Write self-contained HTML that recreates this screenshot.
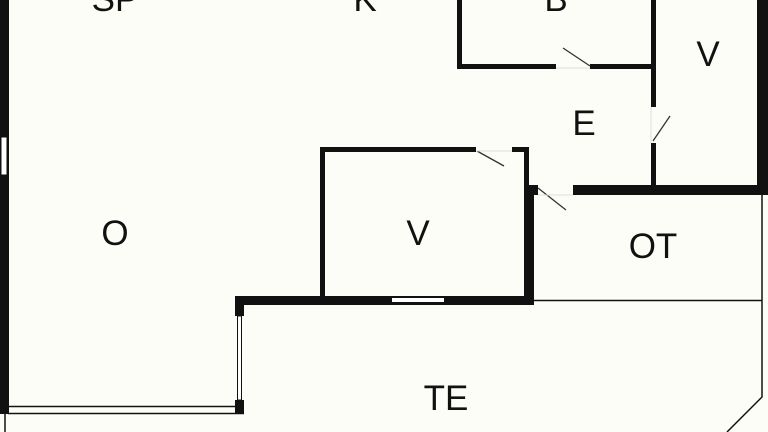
<!DOCTYPE html>
<html><head><style>
html,body{margin:0;padding:0;background:#fdfdf8;}
svg{display:block;}
text{font-family:"Liberation Sans",sans-serif;font-size:35px;fill:#111;text-anchor:middle;}
</style></head><body>
<svg width="768" height="432" viewBox="0 0 768 432">
<rect width="768" height="432" fill="#fdfdf8"/>
<g fill="#111">
<!-- left wall -->
<rect x="0" y="0" width="9" height="414"/>
<!-- step wall -->
<rect x="235" y="296" width="9" height="20"/>
<rect x="235" y="400" width="9" height="14"/>
<rect x="235" y="296" width="297" height="9"/>
<!-- V room -->
<rect x="320" y="147" width="5" height="152"/>
<rect x="320" y="147" width="156" height="5"/>
<rect x="512" y="147" width="17" height="5"/>
<rect x="524" y="147" width="5" height="40"/>
<rect x="524" y="185" width="14" height="10"/>
<rect x="524" y="185" width="10" height="120"/>
<rect x="573" y="185" width="195" height="10"/>
<rect x="757" y="0" width="11" height="195"/>
<!-- E/V wall -->
<rect x="651" y="0" width="5" height="107"/>
<rect x="651" y="143" width="5" height="44"/>
<!-- B room -->
<rect x="457" y="0" width="5" height="69"/>
<rect x="457" y="64" width="99" height="5"/>
<rect x="590" y="64" width="66" height="5"/>
</g>
<!-- windows -->
<rect x="1" y="137" width="6" height="38" fill="#fff" stroke="#111" stroke-width="1"/>
<rect x="237.5" y="316" width="4" height="84" fill="#fff" stroke="#111" stroke-width="1"/>
<rect x="392" y="298" width="52" height="4" fill="#fff"/>
<line x1="8" y1="406.5" x2="238" y2="406.5" stroke="#111" stroke-width="1.5"/>
<line x1="8" y1="413.5" x2="244" y2="413.5" stroke="#111" stroke-width="1.5"/>
<line x1="5" y1="414" x2="5" y2="432" stroke="#111" stroke-width="1.5"/>
<!-- thin terrace lines -->
<g stroke="#111" stroke-width="1.5" fill="none">
<line x1="534" y1="300.5" x2="762" y2="300.5"/>
<polyline points="762,195 762,397 727,432"/>
</g>
<!-- doors -->
<g stroke="#333" stroke-width="1.3">
<line x1="477" y1="151" x2="504" y2="166"/>
<line x1="538" y1="188" x2="566" y2="210"/>
<line x1="653" y1="141" x2="670" y2="116"/>
<line x1="563" y1="48" x2="590" y2="66"/>
</g>
<g stroke="#ddd" stroke-width="1">
<line x1="476" y1="151" x2="512" y2="151"/>
<line x1="538" y1="195" x2="573" y2="195"/>
<line x1="556" y1="68" x2="590" y2="68"/>
<line x1="651" y1="107" x2="651" y2="143"/>
</g>
<text x="115" y="11">SP</text>
<text x="365" y="11">K</text>
<text x="556" y="11">B</text>
<text x="708" y="66">V</text>
<text x="584" y="135">E</text>
<text x="115" y="245">O</text>
<text x="418" y="245">V</text>
<text x="653" y="258">OT</text>
<text x="446" y="410">TE</text>
</svg>
</body></html>
